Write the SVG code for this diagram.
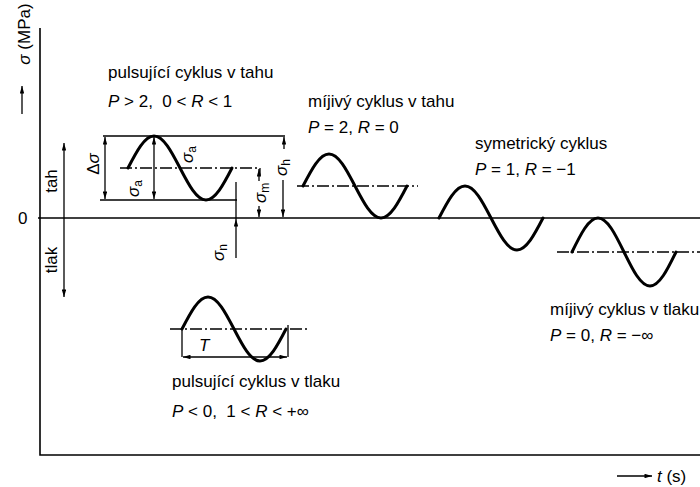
<svg xmlns="http://www.w3.org/2000/svg" width="700" height="487" viewBox="0 0 700 487">
<style>
text{font-family:"Liberation Sans",Arial,sans-serif;font-size:17px;fill:#000}
.it{font-style:italic}
.sub{font-size:12px}
.ax{stroke:#000;stroke-width:1.6;fill:none}
.wave{stroke:#000;stroke-width:3;fill:none;stroke-linecap:round}
.mean{stroke:#000;stroke-width:1.4;fill:none;stroke-dasharray:12,3,2,3}
.dim{stroke:#000;stroke-width:1.3;fill:none}
</style>
<defs>
<marker id="ah" viewBox="0 0 10 6" refX="10" refY="3" markerWidth="8" markerHeight="4.5" markerUnits="userSpaceOnUse" orient="auto-start-reverse">
<path d="M0,0 L10,3 L0,6 z" fill="#000"/>
</marker>
</defs>
<rect width="700" height="487" fill="#fff"/>

<g id="axes">
<path class="ax" d="M40,28 V455 H700"/>
<path class="ax" d="M38,218 H700"/>
<text transform="translate(30,34) rotate(-90)" text-anchor="middle"><tspan class="it">σ</tspan> (MPa)</text>
<path class="dim" d="M22,114 V86" marker-end="url(#ah)" stroke-width="1.8"/>
<text x="18" y="224">0</text>
<path class="dim" d="M64,297 V143" marker-start="url(#ah)" marker-end="url(#ah)" stroke-width="1.6"/>
<text transform="translate(57,181) rotate(-90)" text-anchor="middle">tah</text>
<text transform="translate(57,260) rotate(-90)" text-anchor="middle">tlak</text>
<path class="dim" d="M617,476 H652" marker-end="url(#ah)" stroke-width="1.6"/>
<text x="657" y="482"><tspan class="it">t</tspan> (s)</text>
</g>

<g id="pulsujici-tah">
<text x="108" y="78">pulsující cyklus v tahu</text>
<text x="108" y="107"><tspan class="it">P</tspan> &gt; 2,&#160; 0 &lt; <tspan class="it">R</tspan> &lt; 1</text>
<path class="dim" d="M103,136 H285"/>
<path class="dim" d="M100,200 H237"/>
<path class="mean" d="M120,168 H260"/>
<path class="dim" d="M260,168 V175"/>
<path class="wave" d="M128,168 c8.48,-16.39 16.59,-32 26,-32 c9.41,0 17.52,15.61 26,32 c8.48,16.39 16.59,32 26,32 c9.41,0 17.52,-15.61 26,-32"/>
</g>

<g id="connectors">
<path class="dim" d="M105,137 V199" marker-start="url(#ah)" marker-end="url(#ah)"/>
<text transform="translate(99,164) rotate(-90)" text-anchor="middle">Δ<tspan class="it">σ</tspan></text>
<path class="dim" d="M154,168 V137" marker-end="url(#ah)"/>
<path class="dim" d="M154,168 V199" marker-end="url(#ah)"/>
<text transform="translate(139,197) rotate(-90)"><tspan class="it">σ</tspan><tspan class="sub" dy="3">a</tspan></text>
<text transform="translate(193,163) rotate(-90)"><tspan class="it">σ</tspan><tspan class="sub" dy="3">a</tspan></text>
<path class="dim" d="M259,181 V169" marker-end="url(#ah)"/>
<path class="dim" d="M259,206 V217" marker-end="url(#ah)"/>
<text transform="translate(266,203) rotate(-90)"><tspan class="it">σ</tspan><tspan class="sub" dy="3">m</tspan></text>
<path class="dim" d="M284,149 V137" marker-end="url(#ah)"/>
<path class="dim" d="M283,180 V217" marker-end="url(#ah)"/>
<text transform="translate(287,176) rotate(-90)"><tspan class="it">σ</tspan><tspan class="sub" dy="3">h</tspan></text>
<path class="dim" d="M236,182 V219"/>
<path class="dim" d="M236,258 V219" marker-end="url(#ah)"/>
<text transform="translate(224,261) rotate(-90)"><tspan class="it">σ</tspan><tspan class="sub" dy="3">n</tspan></text>
<path class="dim" d="M182,329 V357"/>
<path class="dim" d="M288,325 V357"/>
<path class="dim" d="M183,357 H287" marker-start="url(#ah)" marker-end="url(#ah)"/>
<text x="199" y="351" class="it">T</text>
</g>

<g id="mijivy-tah">
<text x="308" y="107">míjivý cyklus v tahu</text>
<text x="308" y="133"><tspan class="it">P</tspan> = 2, <tspan class="it">R</tspan> = 0</text>
<path class="mean" d="M297,186 H418"/>
<path class="wave" d="M303,186 c8.48,-16.39 16.59,-32 26,-32 c9.41,0 17.52,15.61 26,32 c8.48,16.39 16.59,32 26,32 c9.41,0 17.52,-15.61 26,-32"/>
</g>

<g id="symetricky">
<text x="475" y="149">symetrický cyklus</text>
<text x="475" y="175"><tspan class="it">P</tspan> = 1, <tspan class="it">R</tspan> = −1</text>
<path class="wave" d="M439,218 c8.48,-16.39 16.59,-32 26,-32 c9.41,0 17.52,15.61 26,32 c8.48,16.39 16.59,32 26,32 c9.41,0 17.52,-15.61 26,-32"/>
</g>

<g id="mijivy-tlak">
<text x="550" y="315">míjivý cyklus v tlaku</text>
<text x="550" y="341"><tspan class="it">P</tspan> = 0, <tspan class="it">R</tspan> = −∞</text>
<path class="mean" d="M557,252 H700"/>
<path class="wave" d="M572,252 c8.48,-17.42 16.59,-34 26,-34 c9.41,0 17.52,16.58 26,34 c8.48,17.42 16.59,34 26,34 c9.41,0 17.52,-16.58 26,-34"/>
</g>

<g id="pulsujici-tlak">
<text x="172" y="387">pulsující cyklus v tlaku</text>
<text x="172" y="417"><tspan class="it">P</tspan> &lt; 0,&#160; 1 &lt; <tspan class="it">R</tspan> &lt; +∞</text>
<path class="mean" d="M170,329 H307"/>
<path class="wave" d="M182,329 c8.48,-16.39 16.59,-32 26,-32 c9.41,0 17.52,15.61 26,32 c8.48,16.39 16.59,32 26,32 c9.41,0 17.52,-15.61 26,-32"/>
</g>
</svg>
